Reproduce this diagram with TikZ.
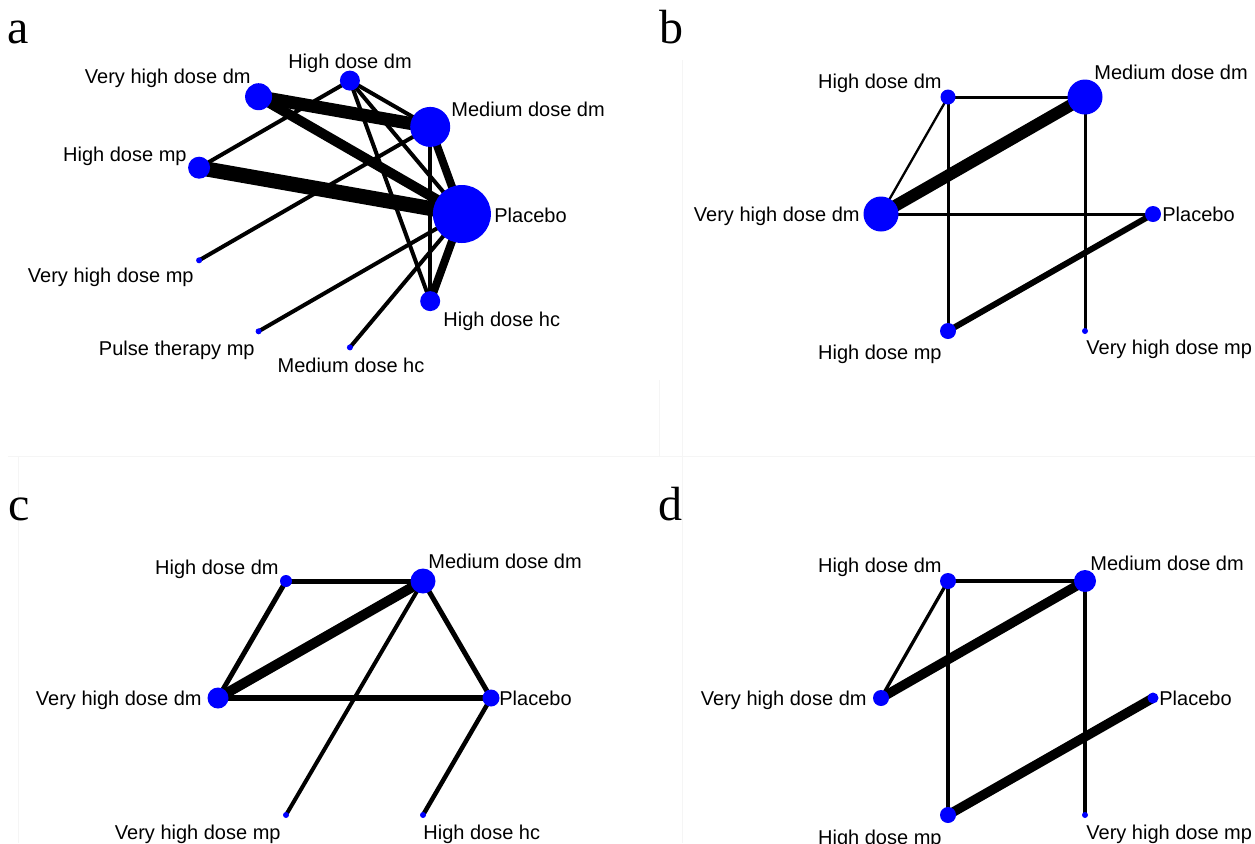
\documentclass[tikz,border=0pt]{standalone}
\usepackage{fontspec}
\setmainfont{Liberation Sans}
\newfontfamily\panelfont{Liberation Serif}
\pgfdeclarelayer{paper}
\pgfdeclarelayer{links}
\pgfsetlayers{paper,links,main}

\begin{document}
\begin{tikzpicture}[x=0.5pt,y=-0.5pt,
  trt/.style={circle,fill=blue,draw=none,inner sep=0pt,minimum size=#1pt},
  conn/.style={line width=#1*0.5pt,draw=black},
  lab/.style={font=\fontsize{10}{12}\selectfont,inner sep=0pt,text height=7.2pt,text depth=2.1pt,yshift=-0.9pt},
  letter/.style={font=\panelfont\fontsize{24}{28}\selectfont,inner sep=0pt,anchor=base west},
  frame/.style={draw=black!4,line width=0.5pt}]

\useasboundingbox (0,0) rectangle (1255,843);
\begin{pgfonlayer}{paper}
\fill[white] (0,0) rectangle (1255,843);
% faint panel borders
\draw[frame] (8,456) -- (1255,456);
\draw[frame] (18,456) -- (18,843);
\draw[frame] (682,60) -- (682,843);
\draw[frame] (659,380) -- (659,456);
\end{pgfonlayer}

% panel letters
\node[letter] (la) at (7,43) {a};
\node[letter] (lb) at (659,43) {b};
\node[letter] (lc) at (8,520) {c};
\node[letter] (ld) at (658,520) {d};

% ---------- panel a ----------
\node[trt=13.5] (a1) at (258.6,96.7) {};
\node[trt=10]   (a2) at (349.9,80.6) {};
\node[trt=20]   (a3) at (430.2,126.9) {};
\node[trt=11]   (a4) at (199.1,167.7) {};
\node[trt=29]   (a5) at (461.9,214) {};
\node[trt=3]    (a6) at (199.1,260.3) {};
\node[trt=10]   (a7) at (430.2,301.1) {};
\node[trt=3]    (a8) at (258.6,331.3) {};
\node[trt=3]    (a9) at (349.9,347.4) {};

\node[lab,anchor=east] (a1l) at (251,77) {Very high dose dm};
\node[lab]             (a2l) at (350,62) {High dose dm};
\node[lab,anchor=west] (a3l) at (451,110) {Medium dose dm};
\node[lab,anchor=east] (a4l) at (187,155) {High dose mp};
\node[lab,anchor=west] (a5l) at (494,216) {Placebo};
\node[lab,anchor=east] (a6l) at (194,276) {Very high dose mp};
\node[lab,anchor=west] (a7l) at (443,320) {High dose hc};
\node[lab,anchor=east] (a8l) at (255,349) {Pulse therapy mp};
\node[lab]             (a9l) at (351,366) {Medium dose hc};

\begin{pgfonlayer}{links}
\draw[conn=13] (a1.center) -- (a3.center);
\draw[conn=10] (a1.center) -- (a5.center);
\draw[conn=15] (a4.center) -- (a5.center);
\draw[conn=8]  (a3.center) -- (a5.center);
\draw[conn=8]  (a5.center) -- (a7.center);
\draw[conn=4]  (a2.center) -- (a3.center);
\draw[conn=4]  (a2.center) -- (a4.center);
\draw[conn=4]  (a2.center) -- (a7.center);
\draw[conn=4]  (a2.center) -- (a5.center);
\draw[conn=4]  (a3.center) -- (a6.center);
\draw[conn=4]  (a3.center) -- (a7.center);
\draw[conn=4]  (a5.center) -- (a8.center);
\draw[conn=4]  (a5.center) -- (a9.center);
\end{pgfonlayer}

% ---------- panel b ----------
\node[trt=7.5]  (b1) at (948,97) {};
\node[trt=17.5] (b2) at (1085,97) {};
\node[trt=17.5] (b3) at (881,214) {};
\node[trt=8]    (b4) at (1153,214) {};
\node[trt=8]    (b5) at (948,331) {};
\node[trt=3]    (b6) at (1085,331) {};

\node[lab,anchor=east] (b1l) at (942,82) {High dose dm};
\node[lab,anchor=west] (b2l) at (1094,73) {Medium dose dm};
\node[lab,anchor=east] (b3l) at (860,215) {Very high dose dm};
\node[lab,anchor=west] (b4l) at (1162,215) {Placebo};
\node[lab,anchor=east] (b5l) at (942,353) {High dose mp};
\node[lab,anchor=west] (b6l) at (1086,348) {Very high dose mp};

\begin{pgfonlayer}{links}
\draw[conn=3]   (b1.center) -- (b2.center);
\draw[conn=2.3] (b1.center) -- (b3.center);
\draw[conn=3]   (b1.center) -- (b5.center);
\draw[conn=12]  (b3.center) -- (b2.center);
\draw[conn=3]   (b3.center) -- (b4.center);
\draw[conn=3]   (b2.center) -- (b6.center);
\draw[conn=6]   (b4.center) -- (b5.center);
\end{pgfonlayer}

% ---------- panel c ----------
\node[trt=6]    (c1) at (286,581) {};
\node[trt=12.5] (c2) at (423,581) {};
\node[trt=10.5] (c3) at (218,698) {};
\node[trt=8.5]  (c4) at (491,698) {};
\node[trt=3]    (c5) at (286,815) {};
\node[trt=3]    (c6) at (423,815) {};

\node[lab,anchor=east] (c1l) at (279,568) {High dose dm};
\node[lab,anchor=west] (c2l) at (428,562) {Medium dose dm};
\node[lab,anchor=east] (c3l) at (202,699) {Very high dose dm};
\node[lab,anchor=west] (c4l) at (499,699) {Placebo};
\node[lab,anchor=east] (c5l) at (281,833) {Very high dose mp};
\node[lab,anchor=west] (c6l) at (423,833) {High dose hc};

\begin{pgfonlayer}{links}
\draw[conn=5]   (c1.center) -- (c2.center);
\draw[conn=5]   (c1.center) -- (c3.center);
\draw[conn=10]  (c3.center) -- (c2.center);
\draw[conn=5.5] (c3.center) -- (c4.center);
\draw[conn=5]   (c2.center) -- (c4.center);
\draw[conn=4]   (c2.center) -- (c5.center);
\draw[conn=4.5] (c4.center) -- (c6.center);
\end{pgfonlayer}

% ---------- panel d ----------
\node[trt=8]   (d1) at (948,581) {};
\node[trt=11]  (d2) at (1085,581) {};
\node[trt=8]   (d3) at (881,698) {};
\node[trt=5.5] (d4) at (1153,698) {};
\node[trt=8]   (d5) at (948,815) {};
\node[trt=3]   (d6) at (1085,815) {};

\node[lab,anchor=east] (d1l) at (942,566) {High dose dm};
\node[lab,anchor=west] (d2l) at (1090,564) {Medium dose dm};
\node[lab,anchor=east] (d3l) at (867,699) {Very high dose dm};
\node[lab,anchor=west] (d4l) at (1159,699) {Placebo};
\node[lab,anchor=east] (d5l) at (942,838) {High dose mp};
\node[lab,anchor=west] (d6l) at (1086,833) {Very high dose mp};

\begin{pgfonlayer}{links}
\draw[conn=4.7] (d1.center) -- (d2.center);
\draw[conn=3.3] (d1.center) -- (d3.center);
\draw[conn=4]   (d1.center) -- (d5.center);
\draw[conn=9.5] (d3.center) -- (d2.center);
\draw[conn=4]   (d2.center) -- (d6.center);
\draw[conn=9.5] (d4.center) -- (d5.center);
\end{pgfonlayer}

\end{tikzpicture}
\end{document}
